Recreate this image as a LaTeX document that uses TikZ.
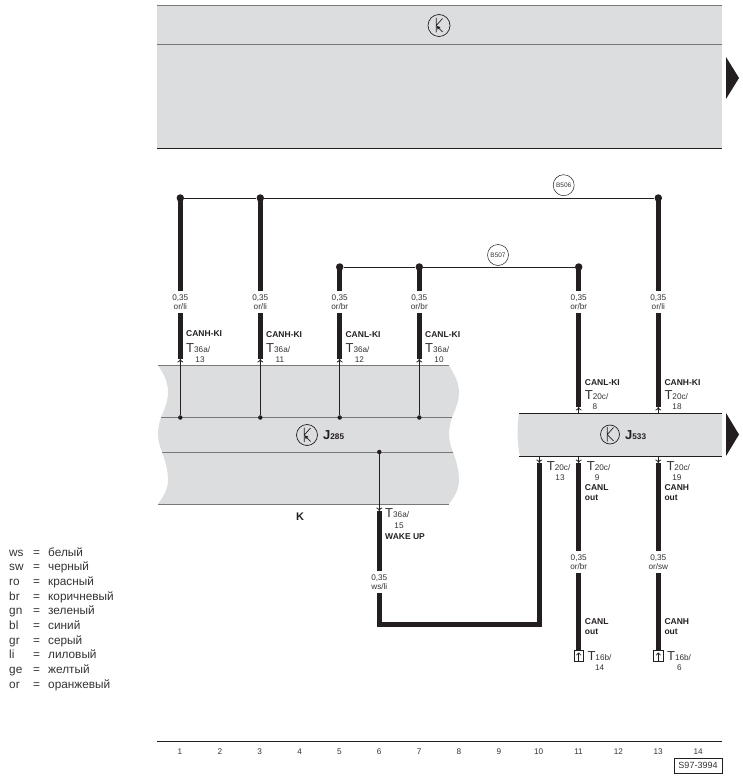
\documentclass[tikz,border=0pt]{standalone}
\usepackage{fontspec}
\setmainfont{Liberation Sans}
\usetikzlibrary{positioning}
\usetikzlibrary{arrows.meta}
\definecolor{wirecol}{HTML}{231F20}
\definecolor{unitfill}{HTML}{DCDDDF}
\definecolor{unitline}{HTML}{77787A}
\definecolor{txtcol}{HTML}{333333}
\newcommand{\smallfont}{\fontsize{8.2}{9.6}\selectfont}
\newcommand{\pinname}[1]{{\fontsize{13}{13}\selectfont T}#1/}
\tikzset{
  wire/.style={draw=wirecol, line width=5pt},
  bus/.style={draw=wirecol, line width=1pt},
  pinline/.style={draw=wirecol, line width=0.8pt, -{To[length=3.5pt,width=6pt]}},
  bigdot/.style={circle, fill=wirecol, inner sep=0pt, minimum size=7.5pt},
  smalldot/.style={circle, fill=wirecol, inner sep=0pt, minimum size=4.5pt},
  gauge/.style={fill=white, align=center, inner sep=0pt, minimum height=22pt, font=\smallfont, text=txtcol},
  pintext/.style={anchor=base west, inner sep=0pt, font=\smallfont, text=txtcol},
  pinnum/.style={anchor=base, inner sep=0pt, font=\smallfont, text=txtcol},
  signal/.style={anchor=base west, inner sep=0pt, font=\fontsize{8.5}{9}\selectfont\bfseries, text=wirecol},
  splice/.style={draw=wirecol, line width=0.5pt, circle, fill=white, inner sep=0pt, minimum size=21pt, font=\fontsize{6.5}{7}\selectfont, text=txtcol},
  ksym/.style={draw=wirecol, line width=0.7pt, circle, inner sep=0pt,
    path picture={
      \draw[wirecol, line width=0.7pt, shift={(path picture bounding box.center)}]
        (-2.7,-7.5) -- (-2.7,7) (3.5,-7) -- (-2.7,0);
      \draw[wirecol, line width=0.7pt, shift={(path picture bounding box.center)}, #1]
        (3.5,6.5) -- (-2.7,0);
    }},
  ksym/.default={-},
  transarrow/.style={-{Latex[length=4pt,width=4pt]}},
  legendtxt/.style={anchor=base west, inner sep=0pt, font=\fontsize{11.8}{12}\selectfont, text=txtcol},
  partname/.style={anchor=base west, inner sep=0pt, font=\fontsize{13}{13}\selectfont\bfseries, text=wirecol}
}

\begin{document}
\begin{tikzpicture}[x=1pt, y=-1pt, >=latex]
\useasboundingbox (0,0) rectangle (742,781);

% Units
\fill[unitfill] (157,6) rectangle (722,148);
\draw[unitline, line width=1pt] (157,6) -- (722,6);
\draw[unitline, line width=1pt] (157,45) -- (722,45);
\draw[wirecol, line width=1pt] (157,148) -- (722,148);
\fill[wirecol] (726,57) -- (739,78) -- (726,99) -- cycle;

\fill[unitfill] (158,365.5) .. controls (164,374) and (168,382) .. (168,392)
  .. controls (168,402) and (164,410) .. (161,417.5)
  .. controls (159,423) and (158,429) .. (158,435)
  .. controls (158,441) and (160,447) .. (162,452)
  .. controls (165,460) and (168,470) .. (168,480)
  .. controls (168,490) and (163,497) .. (158,504)
  -- (449,504) .. controls (454,497) and (459,490) .. (459,480)
  .. controls (459,470) and (456,460) .. (453,452)
  .. controls (451,447) and (449,441) .. (449,435)
  .. controls (449,429) and (450,423) .. (452,417.5)
  .. controls (455,410) and (459,402) .. (459,392)
  .. controls (459,382) and (454,374) .. (449,365.5) -- cycle;
\draw[unitline, line width=1pt] (158,365.5) -- (449,365.5);
\draw[unitline, line width=1pt] (158,504) -- (449,504);
\draw[unitline, line width=1pt] (161,417.5) -- (452,417.5);
\draw[unitline, line width=1pt] (162,452) -- (453,452);

\fill[unitfill] (519,413.5) .. controls (517,425) and (517,445) .. (520,456) -- (722,456) -- (722,413.5) -- cycle;
\draw[wirecol, line width=1pt] (519,413.5) -- (722,413.5);
\draw[wirecol, line width=1pt] (519,456) -- (722,456);
\fill[wirecol] (726,413) -- (739,434.5) -- (726,456) -- cycle;

\node [ksym=transarrow, minimum size=22pt, name=symtop] at (439,25.5) {};
\node [ksym=transarrow, minimum size=21pt, name=symJa] at (307,435) {};
\node [ksym, minimum size=19pt, name=symJb] at (610,434.5) {};
\node [partname, name=nameJa] at (323,439.5) {J{\smallfont 285}};
\node [partname, name=nameJb] at (625,439.5) {J{\smallfont 533}};
\node [partname, name=nameK] at (296,520) {\fontsize{11}{11}\selectfont K};

% Bus bars
\node [bigdot, name=busHa] at (180.3,198) {};
\node [bigdot, name=busHb] at (260.3,198) {};
\node [bigdot, name=busHc] at (658.3,198) {};
\node [bigdot, name=busLa] at (339.7,267) {};
\node [bigdot, name=busLb] at (419.3,267) {};
\node [bigdot, name=busLc] at (578.7,267) {};
\draw [bus] (busHa) -- (busHb) -- (busHc);
\draw [bus] (busLa) -- (busLb) -- (busLc);
\node [splice, name=spliceH] at (563.7,185.2) {B506};
\node [splice, name=spliceL] at (498,255) {B507};

% Wires down into J285
\foreach \wid/\xx/\colr/\sig/\pin/\sy in {Ha/180.3/or\slash li/CANH-KI/13/336,Hb/260.3/or\slash li/CANH-KI/11/337,La/339.7/or\slash br/CANL-KI/12/337,Lb/419.3/or\slash br/CANL-KI/10/337}{
  \node [gauge, name=gauge\wid] at (\xx,302) {0,35\\\colr};
  \coordinate (pin\wid) at (\xx,359);
  \node [smalldot, name=tap\wid] at (\xx,417.5) {};
  \draw [wire] (bus\wid.center) -- (gauge\wid);
  \draw [wire] (gauge\wid) -- (pin\wid);
  \draw [pinline] (tap\wid) -- (pin\wid);
  \node [signal, name=sig\wid] at (\xx+5.7,\sy) {\sig};
  \node [pintext, name=term\wid] at (\xx+5.7,352) {\pinname{36a}};
  \node [pinnum, name=num\wid] at (\xx+19.7,362) {\pin};
}

% Wires down into J533
\foreach \wid/\xx/\colr/\sig/\pin in {Lc/578.7/or\slash br/CANL-KI/8,Hc/658.3/or\slash li/CANH-KI/18}{
  \node [gauge, name=gauge\wid] at (\xx,302) {0,35\\\colr};
  \coordinate (pin\wid) at (\xx,407);
  \coordinate (tap\wid) at (\xx,413.5);
  \draw [wire] (bus\wid.center) -- (gauge\wid);
  \draw [wire] (gauge\wid) -- (pin\wid);
  \draw [pinline] (tap\wid) -- (pin\wid);
  \node [signal, name=sig\wid] at (\xx+6,385) {\sig};
  \node [pintext, name=term\wid] at (\xx+6,399.5) {\pinname{20c}};
}
\node [pinnum, name=numLc] at (595,409.5) {8};
\node [pinnum, name=numHc] at (677,409.5) {18};

% J285 to J533 wake up line
\node [smalldot, name=tapW] at (379.3,452) {};
\coordinate (pinW) at (379.3,511);
\coordinate (pinX) at (539.3,463);
\coordinate (tapX) at (539.3,456);
\coordinate (cornerW) at (379.3,624.3);
\coordinate (cornerX) at (539.3,624.3);
\node [gauge, name=gaugeW] at (379.3,582) {0,35\\ws\slash li};
\draw [pinline] (tapW) -- (pinW);
\draw [wire] (pinW) -- (gaugeW);
\draw [wire, line join=miter] (gaugeW) -- (cornerW) -- (cornerX) -- (pinX);
\draw [pinline] (tapX) -- (pinX);
\node [pintext, name=termW] at (385,517.7) {\pinname{36a}};
\node [pinnum, name=numW] at (399,528) {15};
\node [signal, name=sigW] at (385,539) {WAKE UP};
\node [pintext, name=termX] at (546.7,470) {\pinname{20c}};
\node [pinnum, name=numX] at (560,480) {13};

% Outputs of J533
\foreach \wid/\xx/\colr/\sig/\pin/\pinb in {Cl/578.7/or\slash br/CANL/9/14,Ch/658.3/or\slash sw/CANH/19/6}{
  \coordinate (tap\wid) at (\xx,456);
  \coordinate (pin\wid) at (\xx,463);
  \node [gauge, name=gauge\wid] at (\xx,562) {0,35\\\colr};
  \coordinate (plug\wid) at (\xx,650.5);
  \draw [pinline] (tap\wid) -- (pin\wid);
  \draw [wire] (pin\wid) -- (gauge\wid);
  \draw [wire] (gauge\wid) -- (plug\wid);
  \node [pintext, name=term\wid] at (\xx+8,470) {\pinname{20c}};
  \node [pinnum, name=num\wid] at (\xx+18.5,480) {\pin};
  \node [signal, name=sig\wid] at (\xx+6,490.7) {\sig};
  \node [signal, name=out\wid] at (\xx+6,500) {out};
  \node [signal, name=sigb\wid] at (\xx+6,624.5) {\sig};
  \node [signal, name=outb\wid] at (\xx+6,634) {out};
  \node [draw=wirecol, line width=0.7pt, minimum width=9.5pt, minimum height=11.5pt, inner sep=0pt, name=socket\wid] at (\xx,656) {};
  \coordinate (base\wid) at (\xx,661.7);
  \coordinate (head\wid) at (\xx,652.5);
  \draw [draw=wirecol, line width=0.7pt, -{To[length=3pt,width=5pt]}] (base\wid) -- (head\wid);
  \node [pintext, name=termb\wid] at (\xx+8.6,660) {\pinname{16b}};
  \node [pinnum, name=numb\wid] at (\xx+21,670.7) {\pinb};
}

% Colour key
\foreach \code/\colname [count=\i from 0] in {ws/белый,sw/черный,ro/красный,br/коричневый,gn/зеленый,bl/синий,gr/серый,li/лиловый,ge/желтый,or/оранжевый}{
  \node [legendtxt, name=code\i] at (9,556+14.7*\i) {\code};
  \node [legendtxt, name=eq\i] at (33,556+14.7*\i) {=};
  \node [legendtxt, name=col\i] at (48,556+14.7*\i) {\colname};
}

% Current track ruler
\draw [wirecol, line width=1pt] (157,741) -- (722,741);
\foreach \i in {1,...,14}{
  \node [pinnum, name=track\i] at (180+39.85*\i-39.85,754) {\i};
}
\node [draw=wirecol, line width=0.8pt, inner sep=0pt, minimum width=48pt, minimum height=15pt, font=\fontsize{9}{10}\selectfont, text=txtcol, name=sheet] at (698,765.8) {S97-3994};
\end{tikzpicture}
\end{document}
